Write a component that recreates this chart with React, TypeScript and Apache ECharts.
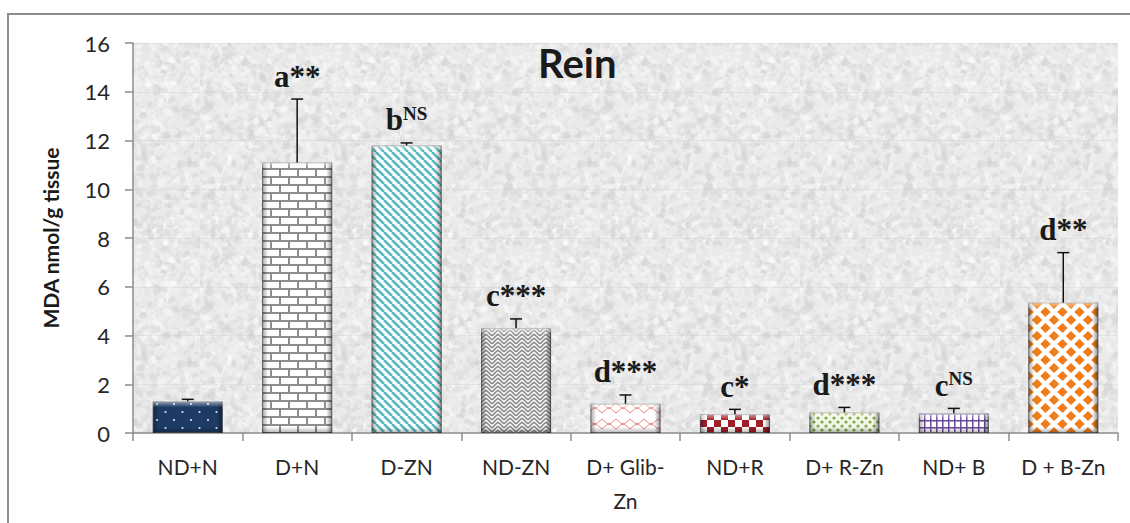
import React, { useEffect, useRef } from 'react';
import * as echarts from 'echarts';

// ---- data ----
const categories = ['ND+N', 'D+N', 'D-ZN', 'ND-ZN', 'D+ Glib-Zn', 'ND+R', 'D+ R-Zn', 'ND+ B', 'D + B-Zn'];
const means = [1.3, 11.1, 11.8, 4.3, 1.2, 0.77, 0.85, 0.81, 5.35];
const errors = [0.08, 2.6, 0.1, 0.38, 0.36, 0.2, 0.2, 0.2, 2.05];
const letters = ['', 'a', 'b', 'c', 'd', 'c', 'd', 'c', 'd'];
const marks = ['', '**', 'NS', '***', '***', '*', '***', 'NS', '**'];
const yMin = 0;
const yMax = 16;
const yInterval = 2;

const SANS = 'Lato, "Open Sans", sans-serif';
const SERIF = '"Liberation Serif", "Times New Roman", serif';
const BAR_RATIO = 0.64;

type Draw = (g: CanvasRenderingContext2D, w: number, h: number) => void;
function tile(w: number, h: number, draw: Draw) {
  const c = document.createElement('canvas');
  c.width = w;
  c.height = h;
  const g = c.getContext('2d') as CanvasRenderingContext2D;
  draw(g, w, h);
  return { image: c.toDataURL(), repeat: 'repeat', imageWidth: w, imageHeight: h } as any;
}

function diamond(g: CanvasRenderingContext2D, cx: number, cy: number, rx: number, ry: number) {
  g.beginPath();
  g.moveTo(cx, cy - ry);
  g.lineTo(cx + rx, cy);
  g.lineTo(cx, cy + ry);
  g.lineTo(cx - rx, cy);
  g.closePath();
  g.fill();
}

function makePatterns() {
  const navyDots = tile(17, 16, (g, w, h) => {
    g.fillStyle = '#1d3b63';
    g.fillRect(0, 0, w, h);
    g.fillStyle = '#dde6f0';
    [[4, 4], [12.5, 12]].forEach(([x, y]) => {
      g.beginPath();
      g.arc(x, y, 1.1, 0, Math.PI * 2);
      g.fill();
    });
  });
  const brick = tile(18, 16, (g, w, h) => {
    g.fillStyle = '#fdfdfd';
    g.fillRect(0, 0, w, h);
    g.strokeStyle = '#8d8d8d';
    g.lineWidth = 2;
    g.beginPath();
    g.moveTo(0, 1); g.lineTo(w, 1);
    g.moveTo(0, 9); g.lineTo(w, 9);
    g.moveTo(1, 1); g.lineTo(1, 9);
    g.moveTo(10, 9); g.lineTo(10, 17);
    g.stroke();
  });
  const tealStripes = tile(8, 8, (g, w, h) => {
    g.fillStyle = '#ffffff';
    g.fillRect(0, 0, w, h);
    g.strokeStyle = '#52b8bf';
    g.lineWidth = 2.6;
    g.beginPath();
    [-8, 0, 8].forEach((o) => {
      g.moveTo(o, 0);
      g.lineTo(o + 8, 8);
    });
    g.stroke();
  });
  const weave = tile(12, 12, (g, w, h) => {
    g.fillStyle = '#ffffff';
    g.fillRect(0, 0, w, h);
    g.strokeStyle = '#8a8a8a';
    g.lineWidth = 1.6;
    g.beginPath();
    for (let y = -6; y <= 12; y += 4) {
      g.moveTo(0, y + 6); g.lineTo(6, y);
      g.moveTo(6, y); g.lineTo(12, y + 6);
    }
    g.stroke();
  });
  const pinkZigzag = tile(14, 16, (g, w, h) => {
    g.fillStyle = '#ffffff';
    g.fillRect(0, 0, w, h);
    g.strokeStyle = '#e68585';
    g.lineWidth = 1;
    g.beginPath();
    g.moveTo(0, 3); g.lineTo(7, 9); g.lineTo(14, 3);
    g.moveTo(0, 13); g.lineTo(7, 7); g.lineTo(14, 13);
    g.stroke();
  });
  const redCheck = tile(14, 14, (g, w, h) => {
    g.fillStyle = '#ffffff';
    g.fillRect(0, 0, w, h);
    g.fillStyle = '#a11d28';
    g.fillRect(0, 0, 7, 7);
    g.fillRect(7, 7, 7, 7);
  });
  const greenDots = tile(8, 8, (g, w, h) => {
    g.fillStyle = '#f3f5ec';
    g.fillRect(0, 0, w, h);
    g.fillStyle = '#7aab3a';
    [[2, 2], [6, 6]].forEach(([x, y]) => {
      g.beginPath();
      g.arc(x, y, 1.6, 0, Math.PI * 2);
      g.fill();
    });
  });
  const purpleGrid = tile(6, 7, (g, w, h) => {
    g.fillStyle = '#ffffff';
    g.fillRect(0, 0, w, h);
    g.strokeStyle = '#6a4b9a';
    g.lineWidth = 1.5;
    g.beginPath();
    g.moveTo(0.75, 0); g.lineTo(0.75, h);
    g.moveTo(0, 0.75); g.lineTo(w, 0.75);
    g.stroke();
  });
  const orangeDiamonds = tile(17, 16, (g, w, h) => {
    g.fillStyle = '#ffffff';
    g.fillRect(0, 0, w, h);
    g.fillStyle = '#f07d1b';
    [[0, 0], [17, 0], [0, 16], [17, 16], [8.5, 8]].forEach(([x, y]) => diamond(g, x, y, 5.2, 5.0));
  });
  return [navyDots, brick, tealStripes, weave, pinkZigzag, redCheck, greenDots, purpleGrid, orangeDiamonds];
}

// background paper texture (deterministic, decorative only)
function makeTexture() {
  const size = 200;
  return tile(size, size, (g) => {
    g.fillStyle = '#ebebeb';
    g.fillRect(0, 0, size, size);
    let s = 987654321;
    const next = () => {
      s = (Math.imul(s, 1103515245) + 12345) >>> 0;
      return s / 4294967296;
    };
    for (let k = 0; k < 3000; k++) {
      const x = next() * size;
      const y = next() * size;
      const r = 0.8 + next() * 2.6;
      const shade = Math.round(205 + next() * 50);
      g.fillStyle = `rgba(${shade},${shade},${shade},0.45)`;
      g.beginPath();
      g.ellipse(x, y, r * (1 + next()), r, next() * Math.PI, 0, Math.PI * 2);
      g.fill();
    }
  });
}

export default function App() {
  const ref = useRef<HTMLDivElement>(null);

  useEffect(() => {
    if (!ref.current) return;
    const chart = echarts.init(ref.current, undefined, { renderer: 'svg' });
    const patterns = makePatterns();
    const texture = makeTexture();

    const barData = means.map((v, i) => ({
      value: v,
      itemStyle: { color: patterns[i] },
    }));
    const errData = means.map((v, i) => [i, v, errors[i]]);

    const option: any = {
      animation: false,
      backgroundColor: '#ffffff',
      title: {
        text: 'Rein',
        left: 533,
        top: 38,
        textStyle: { fontFamily: SANS, fontWeight: 'bold', fontSize: 40, color: '#1a1a1a' },
      },
      graphic: [
        {
          type: 'rect',
          shape: { x: 8, y: 14, width: 1160, height: 560 },
          style: { fill: 'none', stroke: '#8c8c8c', lineWidth: 2 },
          silent: true,
          z: 100,
        },
      ],
      grid: {
        left: 133,
        right: 12,
        top: 43,
        bottom: 90,
        show: true,
        borderWidth: 0,
        backgroundColor: texture,
      },
      xAxis: {
        type: 'category',
        data: categories,
        axisLine: { lineStyle: { color: '#8c8c8c', width: 1.5 } },
        axisTick: { show: true, length: 8, lineStyle: { color: '#8c8c8c', width: 1.5 } },
        axisLabel: {
          interval: 0,
          margin: 16,
          fontFamily: SANS,
          fontSize: 21,
          lineHeight: 34,
          color: '#262626',
          formatter: (v: string) => v.replace('Glib-', 'Glib-\n'),
        },
      },
      yAxis: {
        type: 'value',
        min: yMin,
        max: yMax,
        interval: yInterval,
        name: 'MDA nmol/g tissue',
        nameLocation: 'middle',
        nameGap: 72,
        nameTextStyle: { fontFamily: SANS, fontWeight: 'bold', fontSize: 21, color: '#1a1a1a' },
        axisLine: { show: true, lineStyle: { color: '#8c8c8c', width: 1.5 } },
        axisTick: { show: true, length: 8, lineStyle: { color: '#8c8c8c', width: 1.5 } },
        axisLabel: { margin: 23, fontFamily: SANS, fontSize: 22, color: '#262626' },
        splitLine: { show: true, lineStyle: { color: 'rgba(200,200,200,0.3)', width: 1 } },
      },
      series: [
        {
          type: 'bar',
          data: barData,
          barWidth: `${BAR_RATIO * 100}%`,
          itemStyle: { borderColor: 'rgba(70,70,70,0.55)', borderWidth: 1 },
          z: 2,
        },
        {
          type: 'custom',
          data: means.map((v, i) => [i, v]),
          z: 3,
          silent: true,
          renderItem: (params: any, api: any) => {
            const i = api.value(0);
            const v = api.value(1);
            const top = api.coord([i, v]);
            const base = api.coord([i, 0]);
            const w = api.size([1, 0])[0] * BAR_RATIO;
            const x = top[0] - w / 2;
            const y = top[1];
            const h = base[1] - top[1];
            const e = Math.min(6, h / 3);
            const lg = (x0: number, y0: number, x1: number, y1: number, a: string, b: string) =>
              new echarts.graphic.LinearGradient(x0, y0, x1, y1, [
                { offset: 0, color: a },
                { offset: 1, color: b },
              ]);
            return {
              type: 'group',
              children: [
                { type: 'rect', shape: { x, y, width: e, height: h }, style: { fill: lg(0, 0, 1, 0, 'rgba(0,0,0,0.35)', 'rgba(0,0,0,0)') } },
                { type: 'rect', shape: { x: x + w - e, y, width: e, height: h }, style: { fill: lg(0, 0, 1, 0, 'rgba(0,0,0,0)', 'rgba(0,0,0,0.45)') } },
                { type: 'rect', shape: { x, y, width: w, height: e }, style: { fill: lg(0, 0, 0, 1, 'rgba(255,255,255,0.55)', 'rgba(255,255,255,0)') } },
                { type: 'rect', shape: { x, y: y + h - e, width: w, height: e }, style: { fill: lg(0, 0, 0, 1, 'rgba(0,0,0,0)', 'rgba(0,0,0,0.3)') } },
              ],
            };
          },
        },
        {
          type: 'custom',
          data: errData,
          z: 4,
          silent: true,
          renderItem: (params: any, api: any) => {
            const idx = params.dataIndex;
            const i = api.value(0);
            const m = api.value(1);
            const e = api.value(2);
            const p0 = api.coord([i, m]);
            const p1 = api.coord([i, m + e]);
            const children: any[] = [
              { type: 'line', shape: { x1: p0[0], y1: p0[1], x2: p1[0], y2: p1[1] }, style: { stroke: '#111', lineWidth: 1.5 } },
              { type: 'line', shape: { x1: p1[0] - 6, y1: p1[1], x2: p1[0] + 6, y2: p1[1] }, style: { stroke: '#111', lineWidth: 1.5 } },
            ];
            const L = letters[idx];
            const M = marks[idx];
            if (L) {
              const text = M === 'NS' ? `{l|${L}}{s|${M}}` : `{l|${L}${M}}`;
              children.push({
                type: 'text',
                x: p1[0],
                y: p1[1] - 7,
                style: {
                  text,
                  align: 'center',
                  verticalAlign: 'bottom',
                  rich: {
                    l: { fontFamily: SERIF, fontWeight: 'bold', fontSize: 31, lineHeight: 32, fill: '#1a1a1a', color: '#1a1a1a' },
                    s: { fontFamily: SERIF, fontWeight: 'bold', fontSize: 19, verticalAlign: 'top', fill: '#1a1a1a', color: '#1a1a1a' },
                  },
                },
              });
            }
            return { type: 'group', children };
          },
        },
      ],
    };

    chart.setOption(option);
    return () => chart.dispose();
  }, []);

  return (
    <div
      ref={ref}
      style={{ position: 'fixed', left: 0, top: 0, width: 1130, height: 523, background: '#fff' }}
    />
  );
}
